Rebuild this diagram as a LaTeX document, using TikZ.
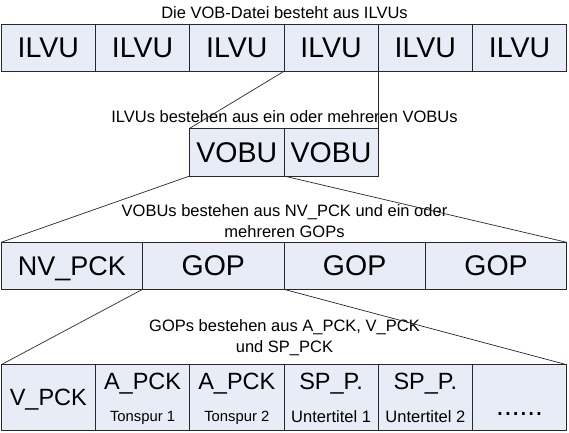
\documentclass[tikz,border=0pt]{standalone}
\usepackage{fontspec}
\setmainfont{Liberation Sans}
\definecolor{boxfill}{RGB}{231,236,247}
\definecolor{edge}{RGB}{40,40,40}
\begin{document}
\begin{tikzpicture}[x=1pt,y=-1pt,
  cell/.style 2 args={draw=edge, fill=boxfill, line width=0.8pt, anchor=north west,
    inner sep=0pt, outer sep=0pt, minimum width=#1, minimum height=#2, text depth=0pt},
  big/.style={font=\fontsize{28.5}{30}\selectfont},
  nvbig/.style={font=\fontsize{27}{30}\selectfont},
  mid/.style={font=\fontsize{23.5}{26}\selectfont, inner sep=0pt, text depth=0pt},
  ttl/.style={font=\fontsize{16.5}{20.5}\selectfont, align=center, inner sep=0pt},
  tsub/.style={font=\fontsize{14.8}{16}\selectfont, inner sep=0pt, text depth=0pt},
  usub/.style={font=\fontsize{16.5}{18}\selectfont, inner sep=0pt, text depth=0pt},
  link/.style={draw=edge, line width=0.7pt}]
\fill[white] (0,0) rectangle (569,432);
\useasboundingbox (0,0) rectangle (569,432);

% row 1: ILVUs
\foreach \k in {1,...,6}
  \node[cell={94.25}{47}, big] (i\k) at ({1.2+(\k-1)*94.25},24.3) {ILVU};

% row 2: VOBUs
\node[cell={94.25}{47.7}, big] (v1) at (189.7,128.3) {VOBU};
\node[cell={94.25}{47.7}, big] (v2) at (283.95,128.3) {VOBU};

% row 3
\node[cell={141.375}{47}, nvbig] (n1) at (1.2,242.3) {NV\_PCK};
\node[cell={141.375}{47}, big] (g1) at (142.575,242.3) {GOP};
\node[cell={141.375}{47}, big] (g2) at (283.95,242.3) {GOP};
\node[cell={141.375}{47}, big] (g3) at (425.325,242.3) {GOP};

% row 4
\node[cell={94.25}{65.3}, mid] (p1) at (1.2,364.7) {V\_PCK};
\foreach \k in {2,...,6}
  \node[cell={94.25}{65.3}] (p\k) at ({1.2+(\k-1)*94.25},364.7) {};

\node[mid, yshift=-17pt] (a1) at (p2.north) {A\_PCK};
\node[mid, yshift=-17pt] (a2) at (p3.north) {A\_PCK};
\node[mid, yshift=-17pt] (s1) at (p4.north) {SP\_P.};
\node[mid, yshift=-17pt] (s2) at (p5.north) {SP\_P.};
\node[tsub, yshift=-51.5pt] (t1) at (p2.north) {Tonspur 1};
\node[tsub, yshift=-51.5pt] (t2) at (p3.north) {Tonspur 2};
\node[usub, yshift=-51.5pt] (u1) at (p4.north) {Untertitel 1};
\node[usub, yshift=-51.5pt] (u2) at (p5.north) {Untertitel 2};
\node[font=\fontsize{28}{30}\selectfont, inner sep=0pt, anchor=base, yshift=-50.5pt] (dots) at (p6.north) {......};

% captions
\node[ttl, text depth=0pt] (c1) at (284.5,12.5) {Die VOB-Datei besteht aus ILVUs};
\node[ttl, text depth=0pt] (c2) at (284.5,116.7) {ILVUs bestehen aus ein oder mehreren VOBUs};
\node[ttl, anchor=north] (c3) at (284.5,204.6) {VOBUs bestehen aus NV\_PCK und ein oder\\mehreren GOPs};
\node[ttl, anchor=north] (c4) at (284.5,319.8) {GOPs bestehen aus A\_PCK, V\_PCK\\und SP\_PCK};

% connectors
\draw[link] (i4.south west) -- (v1.north west);
\draw[link] (i5.south west) -- (v2.north east);
\draw[link] (v1.south west) -- (n1.north west);
\draw[link] (v2.south west) -- (g3.north east);
\draw[link] (g1.south west) -- (p1.north west);
\draw[link] (g2.south west) -- (p6.north east);
\end{tikzpicture}
\end{document}
